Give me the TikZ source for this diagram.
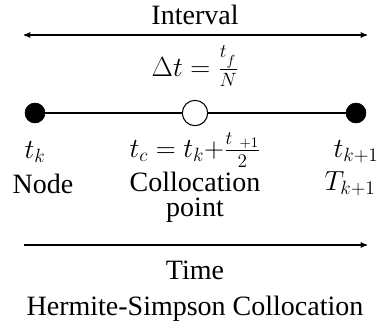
\documentclass[tikz,border=0pt]{standalone}
\usepackage{amsmath}
\usepackage{fontspec}
\setmainfont{Liberation Serif}
\usepackage{tikz}
\usetikzlibrary{arrows, positioning}
\tikzset{x=.75pt,y=-.75pt}
\tikzset{
  lbl/.style={font=\fontsize{21}{19}\selectfont, inner sep=0pt},
  knot/.style={circle, draw, fill=black, minimum size=15pt, inner sep=0pt},
  colloc/.style={circle, draw, thick, fill=white, minimum size=19pt, inner sep=0pt},
  axis/.style={thick, >=stealth'}
}

\begin{document}
\begin{tikzpicture}
  \useasboundingbox (0,0) rectangle (377,330);
  % interval arrow
  \node[lbl] (interval) at (195,15) {Interval};
  \coordinate (il) at (24,35);
  \coordinate (ir) at (367,35);
  \draw[axis,<->] (il) -- (ir);
  \node[lbl] (dt) at (195,66) {$\Delta t = \frac{t_{_f}}{N}$};
  % nodes on the segment
  \node[knot] (left) at (35,113) {};
  \node[colloc] (mid) at (195,113) {};
  \node[knot] (right) at (356,113) {};
  \draw[thick] (left) -- (mid) -- (right);
  \node[lbl] (tk) at (35,152) {$t_k$};
  \node[lbl] (tc) at (195,150) {$t_c = t_k {+} \frac{t_{\ +1}}{2}$};
  \node[lbl] (tk1) at (356,152) {$t_{k+1}$};
  \node[lbl] (node) at (43,184) {Node};
  \node[lbl, align=center] (cpoint) at (195,197) {Collocation\\point};
  \node[lbl] (Tk1) at (350,184) {$T_{k+1}$};
  % time arrow
  \coordinate (tl) at (24,245);
  \coordinate (tr) at (367,245);
  \draw[axis,->] (tl) -- (tr);
  \node[lbl] (time) at (195,270) {Time};
  \node[lbl] (title) at (195,309) {Hermite-Simpson Collocation};
\end{tikzpicture}
\end{document}
